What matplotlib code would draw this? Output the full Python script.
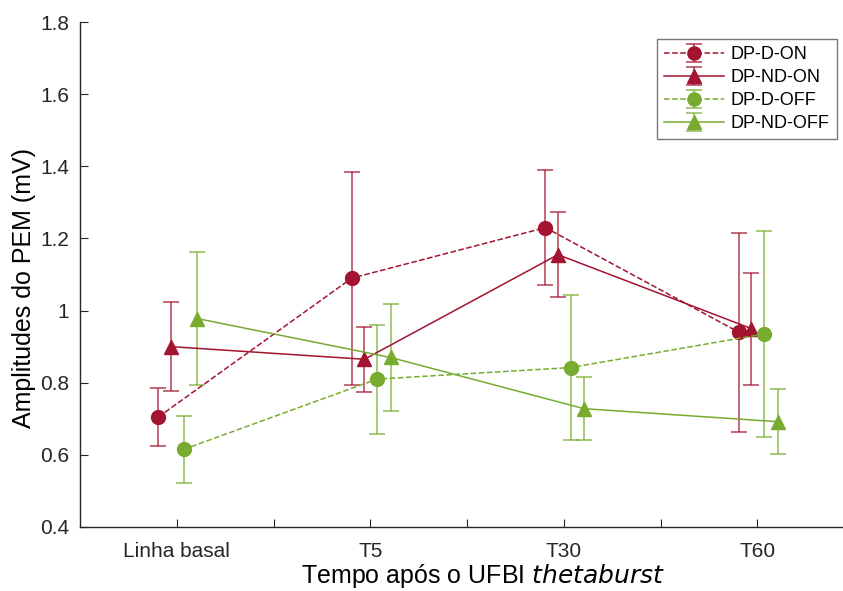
import matplotlib
matplotlib.use("Agg")
import matplotlib.pyplot as plt
import numpy as np

plt.rcParams['font.family'] = ['Liberation Sans', 'DejaVu Sans']

categories = ["Linha basal", "T5", "T30", "T60"]
series_names = ["DP-D-ON", "DP-ND-ON", "DP-D-OFF", "DP-ND-OFF"]
dp_d_on = [0.705, 1.09, 1.23, 0.94]
dp_d_on_err = [0.08, 0.295, 0.16, 0.276]
dp_nd_on = [0.90, 0.865, 1.155, 0.95]
dp_nd_on_err = [0.123, 0.09, 0.117, 0.155]
dp_d_off = [0.615, 0.81, 0.842, 0.935]
dp_d_off_err = [0.093, 0.151, 0.20, 0.285]
dp_nd_off = [0.978, 0.87, 0.728, 0.692]
dp_nd_off_err = [0.185, 0.149, 0.088, 0.09]

red = '#A2142F'
green = '#77AC30'

fig = plt.figure(figsize=(8.43, 5.91), dpi=100)
ax = fig.add_axes([80/843, 1-527/591, (854-80)/843, (527-22)/591])

x = np.arange(1, 5)
specs = [
    (dp_d_on, dp_d_on_err, -0.095, red, '--', 'o'),
    (dp_nd_on, dp_nd_on_err, -0.03, red, '-', '^'),
    (dp_d_off, dp_d_off_err, 0.035, green, '--', 'o'),
    (dp_nd_off, dp_nd_off_err, 0.105, green, '-', '^'),
]
for (vals, errs, off, col, ls, mk), name in zip(specs, series_names):
    eb = ax.errorbar(x + off, vals, yerr=errs, color=col, ecolor=col,
                     linestyle=ls, linewidth=1.1, marker=mk, markersize=10,
                     markeredgecolor=col, markerfacecolor=col,
                     elinewidth=1.3, capsize=6, capthick=1.3, label=name)
    for c in eb[1]:
        c.set_alpha(0.7)
    for c in eb[2]:
        c.set_alpha(0.7)

ax.set_xlim(0.5, 4.5)
ax.set_ylim(0.4, 1.8)
ax.set_xticks([1, 1.5, 2, 2.5, 3, 3.5, 4])
ax.set_xticklabels(["Linha basal", "", "T5", "", "T30", "", "T60"])
yt = [0.4, 0.6, 0.8, 1.0, 1.2, 1.4, 1.6, 1.8]
ax.set_yticks(yt)
ax.set_yticklabels(["0.4", "0.6", "0.8", "1", "1.2", "1.4", "1.6", "1.8"])
ax.tick_params(direction='in', length=6, labelsize=15, colors='#262626', pad=8)
ax.tick_params(axis='x', pad=11)
for s in ['top', 'right']:
    ax.spines[s].set_visible(False)
for s in ['left', 'bottom']:
    ax.spines[s].set_color('#262626')
    ax.spines[s].set_linewidth(1.0)

ax.set_ylabel("Amplitudes do PEM (mV)", fontsize=18, color='black')
ax.yaxis.set_label_coords((36-80)/774, 0.473)
ax.set_xlabel("Tempo após o UFBI $\\it{thetaburst}$", fontsize=18, color='black')
ax.xaxis.label.set_verticalalignment('bottom')
ax.xaxis.set_label_coords((483-80)/774, -(591-527-1)/505)

leg = ax.legend(loc='upper right', bbox_to_anchor=(837/843, 1-39/591), bbox_transform=fig.transFigure,
                fontsize=13, frameon=True, fancybox=False, edgecolor='#555555',
                handlelength=3.3, handletextpad=0.4, borderpad=0.4, labelspacing=0.33,
                markerscale=0.95, borderaxespad=0)
leg.get_frame().set_linewidth(1.0)

fig.savefig("out.png", dpi=100)
